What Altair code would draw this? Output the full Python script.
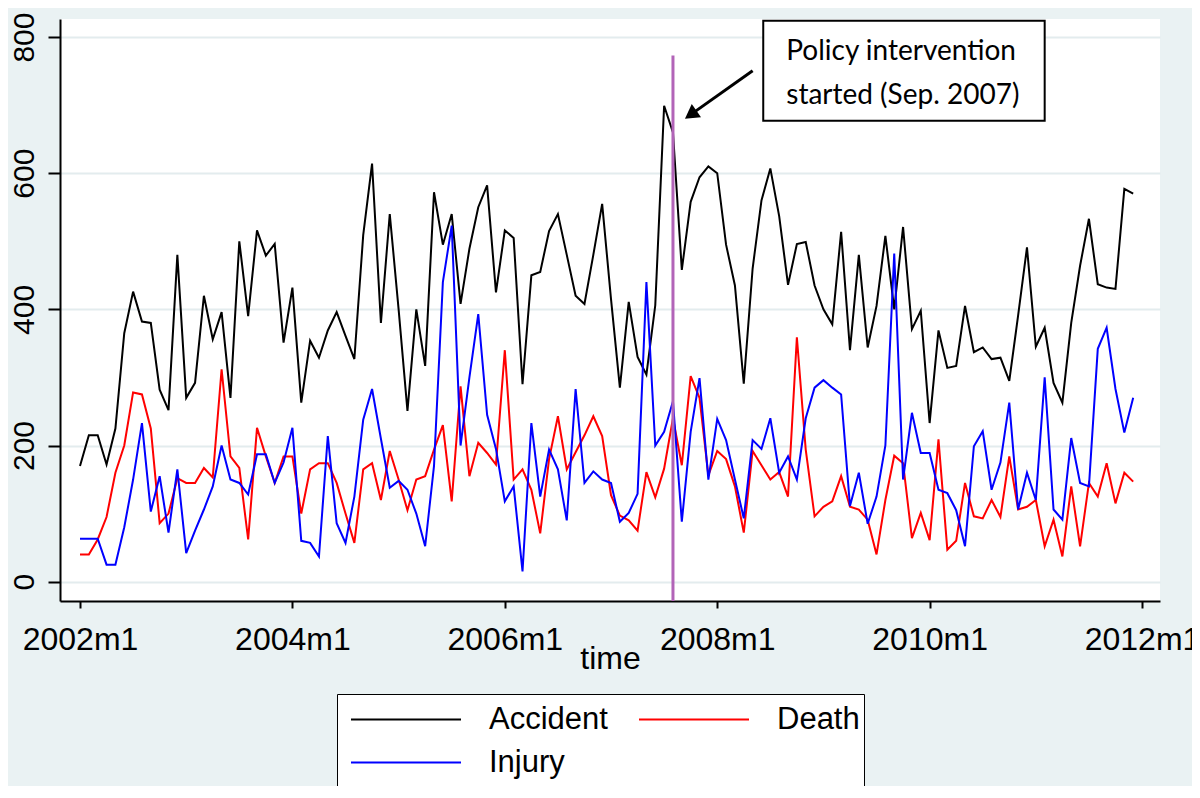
import altair as alt
import pandas as pd

# ---- data (monthly, 2002m1 .. 2011m12) ----
accident = [170, 215, 215, 172, 225, 365, 426, 382, 380, 282, 252, 480, 270, 292, 420, 356, 396, 270, 500, 390,
            516, 479, 496, 351, 432, 263, 354, 329, 369, 396, 361, 327, 509, 614, 380, 540, 400, 251, 400, 317,
            572, 495, 540, 408, 489, 550, 582, 425, 516, 505, 290, 450, 455, 515, 540, 480, 420, 408, 480, 555,
            415, 285, 411, 330, 304, 406, 699, 660, 458, 558, 594, 610, 600, 495, 435, 291, 460, 560, 607, 537,
            436, 496, 499, 435, 400, 378, 514, 340, 480, 344, 405, 508, 400, 521, 371, 398, 233, 369, 314, 317,
            405, 337, 344, 327, 329, 295, 391, 491, 345, 373, 292, 263, 380, 464, 533, 437, 432, 430, 577, 570]
death = [40, 40, 62, 95, 160, 200, 278, 275, 225, 86, 100, 152, 145, 145, 167, 153, 312, 184, 167, 62,
         226, 184, 145, 184, 184, 100, 165, 174, 174, 145, 100, 57, 165, 174, 120, 192, 150, 105, 150, 155,
         194, 230, 118, 287, 155, 204, 189, 172, 340, 150, 165, 135, 71, 180, 243, 165, 190, 215, 243, 214,
         127, 97, 90, 75, 161, 124, 166, 240, 171, 302, 270, 156, 192, 180, 140, 72, 192, 171, 150, 161,
         125, 359, 194, 96, 110, 118, 155, 110, 106, 91, 40, 120, 185, 174, 64, 101, 61, 209, 47, 60,
         145, 96, 93, 120, 95, 184, 106, 110, 120, 52, 91, 37, 140, 52, 145, 125, 174, 115, 160, 147]
injury = [63, 63, 63, 25, 25, 80, 150, 233, 103, 155, 72, 165, 42, 75, 106, 140, 200, 150, 145, 128,
          187, 187, 145, 175, 226, 60, 57, 37, 214, 86, 57, 125, 238, 283, 210, 138, 148, 135, 100, 52,
          170, 440, 523, 200, 300, 393, 245, 195, 118, 140, 15, 233, 125, 194, 165, 90, 283, 145, 162, 150,
          145, 88, 101, 129, 440, 200, 220, 265, 88, 220, 299, 150, 239, 208, 150, 93, 208, 195, 240, 160,
          184, 150, 240, 285, 296, 285, 275, 111, 160, 85, 125, 200, 482, 150, 248, 189, 189, 135, 130, 105,
          52, 199, 221, 135, 175, 263, 106, 160, 120, 300, 106, 91, 211, 145, 140, 342, 373, 283, 219, 270]
series_names = ["Accident", "Death", "Injury"]
series_colors = ["#000000", "#FF0000", "#0000FF"]
months = list(range(len(accident)))          # 0 = 2002m1
x_tick_values = [0, 24, 48, 72, 96, 120]      # 2002m1 ... 2012m1
y_tick_values = [0, 200, 400, 600, 800]

# annotation (data units: month index, count)
policy_month = [67]
policy_line_top = [773]
box_x = [77.2]; box_x2 = [109.0]; box_y = [677]; box_y2 = [824]
note_lines = ["Policy intervention", "started (Sep. 2007)"]
note_x = [79.8, 79.8]; note_y = [778, 713]
arrow_tail = [76.0, 750.6]
arrow_head = [69.0, 686.0]

rows = []
for name, vals in zip(series_names, [accident, death, injury]):
    for t, v in zip(months, vals):
        rows.append({"t": t, "value": v, "series": name})
df = pd.DataFrame(rows)

XMIN, XMAX = -2.26, 122.03
YMIN, YMAX = -28.4, 826.5
xs = alt.Scale(domain=[XMIN, XMAX], nice=False, zero=False)
ys = alt.Scale(domain=[YMIN, YMAX], nice=False, zero=False)

xaxis = alt.Axis(
    title="time", values=x_tick_values,
    labelExpr="toString(2002 + floor(datum.value / 12)) + 'm1'",
    labelFont="Liberation Sans", labelFontSize=32, labelColor="black",
    labelPadding=16, tickSize=7, tickWidth=2, tickColor="black",
    domainColor="black", domainWidth=2, grid=False,
    titleFont="Liberation Sans", titleFontSize=32, titleFontWeight="normal",
    titleColor="black", titleY=67, titleBaseline="alphabetic",
    labelFlush=False, labelOverlap=False,
)
yaxis = alt.Axis(
    title=None, values=y_tick_values, format="d",
    labelFont="Liberation Sans", labelFontSize=30, labelColor="black",
    labelAngle=270, labelAlign="center", labelBaseline="alphabetic",
    labelPadding=15, tickSize=12, tickWidth=2, tickColor="black",
    domainColor="black", domainWidth=2,
    grid=True, gridColor="#E3ECEE", gridWidth=2,
)

legend = alt.Legend(
    title=None, orient="none", legendX=277, legendY=675, columns=2,
    direction="horizontal",
    symbolType="stroke", symbolSize=12100, symbolStrokeWidth=2,
    clipHeight=43, labelFont="Liberation Sans", labelFontSize=31,
    labelColor="black", labelOffset=27, symbolOffset=9,
    columnPadding=21, rowPadding=0, padding=4, labelLimit=300,
    strokeColor="black", fillColor="white",
)

lines = alt.Chart(df).mark_line(strokeWidth=2, clip=True).encode(
    x=alt.X("t:Q", scale=xs, axis=xaxis),
    y=alt.Y("value:Q", scale=ys, axis=yaxis),
    color=alt.Color("series:N", scale=alt.Scale(domain=series_names, range=series_colors), legend=legend),
)

rule_df = pd.DataFrame({"t": policy_month, "value": [YMIN], "value2": policy_line_top})
policy = alt.Chart(rule_df).mark_rule(color="#B264B8", strokeWidth=3).encode(
    x=alt.X("t:Q", scale=xs, axis=xaxis),
    y=alt.Y("value:Q", scale=ys, axis=yaxis),
    y2="value2:Q",
)

box_df = pd.DataFrame({"t": box_x, "t2": box_x2, "value": box_y, "value2": box_y2})
box = alt.Chart(box_df).mark_rect(fill="white", stroke="black", strokeWidth=2).encode(
    x=alt.X("t:Q", scale=xs, axis=xaxis), x2="t2:Q",
    y=alt.Y("value:Q", scale=ys, axis=yaxis), y2="value2:Q",
)

note_df = pd.DataFrame({"t": note_x, "value": note_y, "label": note_lines})
note = alt.Chart(note_df).mark_text(
    align="left", baseline="middle", font="Lato", fontSize=28, color="black"
).encode(
    x=alt.X("t:Q", scale=xs, axis=xaxis),
    y=alt.Y("value:Q", scale=ys, axis=yaxis),
    text="label:N",
)

shaft_df = pd.DataFrame({"t": [arrow_tail[0]], "value": [arrow_tail[1]],
                         "t2": [arrow_head[0]], "value2": [arrow_head[1]]})
shaft = alt.Chart(shaft_df).mark_rule(color="black", strokeWidth=3).encode(
    x=alt.X("t:Q", scale=xs, axis=xaxis), x2="t2:Q",
    y=alt.Y("value:Q", scale=ys, axis=yaxis), y2="value2:Q",
)

head_df = pd.DataFrame({"t": [arrow_head[0]], "value": [arrow_head[1]]})
head = alt.Chart(head_df).mark_point(
    shape="triangle-up", filled=True, color="black", size=260, angle=235, opacity=1
).encode(
    x=alt.X("t:Q", scale=xs, axis=xaxis),
    y=alt.Y("value:Q", scale=ys, axis=yaxis),
)

chart = alt.layer(lines, policy, box, note, shaft, head).properties(
    width=1100, height=582,
    autosize=alt.AutoSizeParams(type="none"),
    padding={"left": 52, "top": 11, "right": 32, "bottom": 185},
    background="#EAF2F3",
).configure_view(fill="white", stroke=None)

chart.save("out.html", embed_options={"renderer": "svg", "actions": False})
